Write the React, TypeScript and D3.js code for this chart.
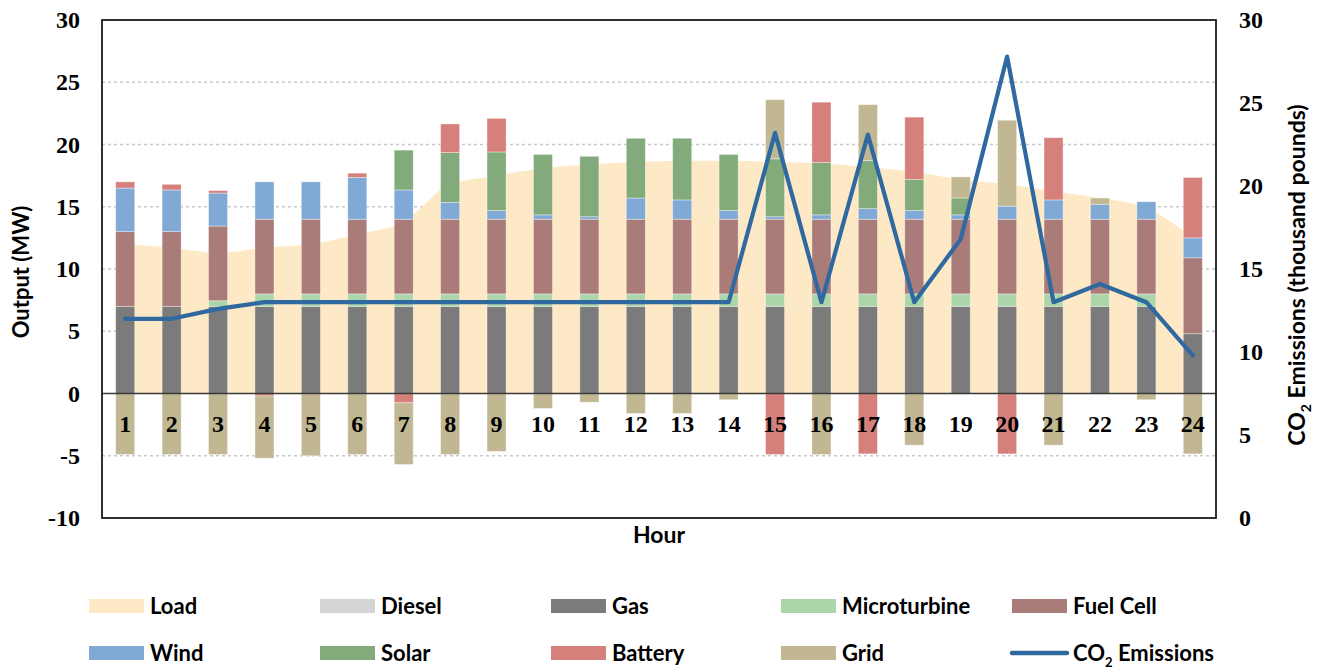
import React from "react";
import * as d3 from "d3";

const hours = [1, 2, 3, 4, 5, 6, 7, 8, 9, 10, 11, 12, 13, 14, 15, 16, 17, 18, 19, 20, 21, 22, 23, 24];
const load = [12.0, 11.7, 11.3, 11.7, 12.0, 12.8, 13.8, 16.8, 17.5, 18.1, 18.4, 18.6, 18.7, 18.7, 18.6, 18.5, 18.2, 17.8, 17.2, 16.8, 16.25, 15.7, 14.9, 12.5];
const diesel = [0, 0, 0, 0, 0, 0, 0, 0, 0, 0, 0, 0, 0, 0, 0, 0, 0, 0, 0, 0, 0, 0, 0, 0];
const gas = [7, 7, 7, 7, 7, 7, 7, 7, 7, 7, 7, 7, 7, 7, 7, 7, 7, 7, 7, 7, 7, 7, 7, 4.8];
const microturbine = [0, 0, 0.45, 1, 1, 1, 1, 1, 1, 1, 1, 1, 1, 1, 1, 1, 1, 1, 1, 1, 1, 1, 1, 0];
const fuelCell = [6, 6, 6, 6, 6, 6, 6, 6, 6, 6, 6, 6, 6, 6, 6, 6, 6, 6, 6, 6, 6, 6, 6, 6.1];
const wind = [3.5, 3.35, 2.65, 3.0, 3.0, 3.35, 2.35, 1.35, 0.7, 0.35, 0.2, 1.7, 1.55, 0.7, 0.2, 0.35, 0.85, 0.7, 0.35, 1.05, 1.55, 1.2, 1.4, 1.6];
const solar = [0, 0, 0, 0, 0, 0, 3.2, 4.0, 4.7, 4.85, 4.85, 4.8, 4.95, 4.5, 4.65, 4.2, 3.85, 2.5, 1.35, 0, 0, 0, 0, 0];
const battery = [0.5, 0.45, 0.2, -0.2, 0, 0.35, -0.75, 2.3, 2.7, 0, 0, 0, 0, 0, -4.9, 4.85, -4.85, 5.0, 0, -4.85, 5.0, 0, 0, 4.85];
const grid = [-4.9, -4.9, -4.9, -5.0, -5.0, -4.9, -4.95, -4.9, -4.65, -1.2, -0.7, -1.6, -1.6, -0.5, 4.75, -4.9, 4.5, -4.15, 1.7, 6.9, -4.15, 0.5, -0.5, -4.85];
const co2 = [12, 12, 12.6, 13, 13, 13, 13, 13, 13, 13, 13, 13, 13, 13, 23.2, 13, 23.1, 13, 16.8, 27.8, 13, 14.1, 13, 9.8];

const leftTicks = [-10, -5, 0, 5, 10, 15, 20, 25, 30];
const rightTicks = [0, 5, 10, 15, 20, 25, 30];

const seriesKeys = ["Diesel", "Gas", "Microturbine", "Fuel Cell", "Wind", "Solar", "Battery", "Grid"];
const seriesData: Record<string, number[]> = {
  Diesel: diesel,
  Gas: gas,
  Microturbine: microturbine,
  "Fuel Cell": fuelCell,
  Wind: wind,
  Solar: solar,
  Battery: battery,
  Grid: grid,
};
const colors: Record<string, string> = {
  Load: "#fee9c6",
  Diesel: "#d4d4d4",
  Gas: "#7b7b7b",
  Microturbine: "#acd6a9",
  "Fuel Cell": "#a97b79",
  Wind: "#80a9d6",
  Solar: "#82aa7a",
  Battery: "#d6807b",
  Grid: "#c1b893",
  CO2: "#2f69a0",
};

const legendRows = [
  ["Load", "Diesel", "Gas", "Microturbine", "Fuel Cell"],
  ["Wind", "Solar", "Battery", "Grid", "CO2"],
];

const L = 102, R = 1216, T = 20, B = 518;
const serif = "'Liberation Serif', serif";
const sans = "Lato, 'Open Sans', sans-serif";

export default function App() {
  const x = d3.scaleBand<number>().domain(hours).range([L, R]).paddingInner(0.59).paddingOuter(0.295);
  const y = d3.scaleLinear().domain([-10, 30]).range([B, T]);
  const y2 = d3.scaleLinear().domain([0, 30]).range([B, T]);
  const cx = (h: number) => (x(h) as number) + x.bandwidth() / 2;

  const rows = hours.map((h, i) => {
    const r: any = { hour: h };
    seriesKeys.forEach((k) => (r[k] = seriesData[k][i]));
    return r;
  });
  const stacked = d3.stack<any>().keys(seriesKeys).offset(d3.stackOffsetDiverging)(rows);

  const area = d3
    .area<number>()
    .x((_, i) => cx(hours[i]))
    .y0(y(0))
    .y1((d) => y(d))
    .curve(d3.curveMonotoneX);
  const line = d3
    .line<number>()
    .x((_, i) => cx(hours[i]))
    .y((d) => y2(d));

  const colX = [89, 320, 551, 781, 1012];
  const rowY = [606, 653];

  return (
    <svg width={1317} height={671} style={{ position: "absolute", left: 0, top: 0, display: "block" }}>
      <rect x={0} y={0} width={1317} height={671} fill="#fff" />
      {leftTicks
        .filter((t) => t !== 0 && t !== 30 && t !== -10)
        .map((t) => (
          <line key={t} x1={L} x2={R} y1={y(t)} y2={y(t)} stroke="#c9c9c9" strokeWidth={1.5} strokeDasharray="3,3" />
        ))}
      <path d={area(load) as string} fill={colors.Load} />
      {stacked.map((s) => (
        <g key={s.key} fill={colors[s.key]}>
          {s.map((d, i) =>
            d[1] - d[0] !== 0 ? (
              <rect
                key={i}
                x={x(hours[i])}
                width={x.bandwidth()}
                y={y(Math.max(d[0], d[1]))}
                height={Math.abs(y(d[0]) - y(d[1]))}
                stroke="#ffffff"
                strokeOpacity={0.45}
                strokeWidth={0.8}
              />
            ) : null
          )}
        </g>
      ))}
      <line x1={L} x2={R} y1={y(0)} y2={y(0)} stroke="#3a3a3a" strokeWidth={1.6} />
      {hours.map((h) => (
        <text key={h} x={cx(h)} y={432} textAnchor="middle" fontFamily={serif} fontWeight="bold" fontSize={24} fill="#000">
          {h}
        </text>
      ))}
      <path d={line(co2) as string} fill="none" stroke={colors.CO2} strokeWidth={4.2} strokeLinejoin="round" strokeLinecap="round" />
      <rect x={L} y={T} width={R - L} height={B - T} fill="none" stroke="#1a1a1a" strokeWidth={1.8} />
      {leftTicks.map((t) => (
        <text key={t} x={80} y={y(t) + 8} textAnchor="end" fontFamily={serif} fontWeight="bold" fontSize={24} fill="#000">
          {t}
        </text>
      ))}
      {rightTicks.map((t) => (
        <text key={t} x={1239} y={y2(t) + 8} textAnchor="start" fontFamily={serif} fontWeight="bold" fontSize={24} fill="#000">
          {t}
        </text>
      ))}
      <text transform={`translate(29,${272}) rotate(-90)`} textAnchor="middle" fontFamily={sans} fontWeight="bold" fontSize={22} fill="#000">
        Output (MW)
      </text>
      <text x={(L + R) / 2} y={543} textAnchor="middle" fontFamily={sans} fontWeight="bold" fontSize={23} fill="#000">
        Hour
      </text>
      <text transform={`translate(1305,${275}) rotate(-90)`} textAnchor="middle" fontFamily={sans} fontWeight="bold" fontSize={23} fill="#000">
        CO<tspan fontSize={14} dy={6}>2</tspan>
        <tspan dy={-6}> Emissions (thousand pounds)</tspan>
      </text>
      {legendRows.map((row, ri) =>
        row.map((k, ci) => (
          <g key={k}>
            {k === "CO2" ? (
              <line x1={colX[ci]} x2={colX[ci] + 55} y1={rowY[ri]} y2={rowY[ri]} stroke={colors.CO2} strokeWidth={4.5} strokeLinecap="round" />
            ) : (
              <rect x={colX[ci]} y={rowY[ri] - 7} width={55} height={14} fill={colors[k]} />
            )}
            <text x={colX[ci] + 61} y={rowY[ri] + 8} fontFamily={sans} fontWeight="bold" fontSize={22} fill="#000">
              {k === "CO2" ? (
                <>
                  CO<tspan fontSize={13} dy={6}>2</tspan>
                  <tspan dy={-6}> Emissions</tspan>
                </>
              ) : (
                k
              )}
            </text>
          </g>
        ))
      )}
    </svg>
  );
}
